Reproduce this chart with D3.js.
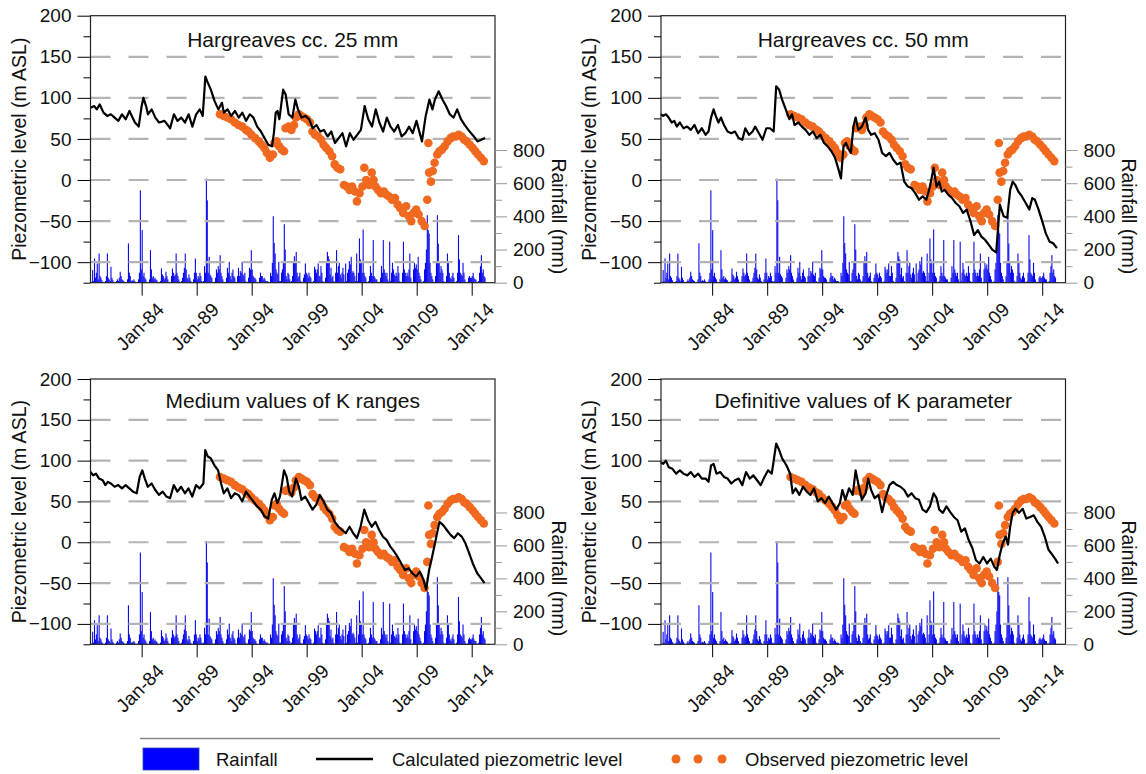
<!DOCTYPE html>
<html>
<head>
<meta charset="utf-8">
<script src="https://cdn.jsdelivr.net/npm/d3@7"></script>
<style>
  body { margin: 0; background: #fff; }
  text { font-family: "Liberation Sans", Arial, sans-serif; fill: #111; }
</style>
</head>
<body>
<svg id="chart" width="1146" height="774"></svg>
<script>
// ---- data ----

// x ticks (January of these years)
var tickYears = [1984, 1989, 1994, 1999, 2004, 2009, 2014];
var levelTicks = [-100, -50, 0, 50, 100, 150, 200];
var rainTicks = [0, 200, 400, 600, 800];

// monthly rainfall (mm), first month = June 1979
var rainStart = [1979, 5];
var rainfall = [
  5, 76, 10, 146, 30, 60, 116,                          // 1979 Jun-Dec
  20, 176, 40, 30, 15, 5, 0, 2, 10, 40, 176, 30,        // 1980
  20, 10, 96, 30, 15, 5, 0, 0, 10, 20, 10, 30,          // 1981
  66, 40, 20, 15, 10, 0, 0, 5, 20, 237, 60, 40,         // 1982
  10, 15, 10, 20, 10, 0, 0, 5, 20, 60, 557, 80,         // 1983
  317, 40, 60, 30, 20, 5, 0, 0, 20, 196, 80, 30,        // 1984
  40, 20, 30, 20, 15, 5, 0, 0, 10, 86, 50, 40,          // 1985
  20, 30, 66, 40, 20, 5, 0, 0, 40, 86, 60, 40,          // 1986
  50, 176, 60, 40, 20, 5, 0, 10, 30, 60, 90, 176,       // 1987
  80, 30, 20, 50, 30, 10, 0, 0, 20, 60, 146, 60,        // 1988
  20, 40, 30, 60, 40, 10, 5, 10, 100, 60, 627, 497,     // 1989
  60, 156, 50, 40, 30, 5, 0, 5, 30, 80, 60, 100,        // 1990
  80, 166, 60, 40, 20, 5, 0, 5, 30, 90, 60, 126,        // 1991
  40, 20, 60, 80, 40, 30, 5, 0, 40, 90, 40, 70,         // 1992
  60, 126, 50, 40, 60, 10, 0, 5, 30, 90, 80, 196,       // 1993
  80, 40, 30, 30, 20, 5, 0, 0, 30, 60, 40, 40,          // 1994
  20, 30, 20, 10, 10, 10, 0, 0, 60, 40, 120, 401,       // 1995
  240, 176, 80, 60, 50, 126, 10, 10, 60, 80, 120, 353,  // 1996
  200, 40, 20, 60, 50, 20, 5, 10, 40, 120, 160, 130,    // 1997
  186, 60, 30, 40, 60, 10, 0, 5, 30, 50, 116, 60,       // 1998
  50, 30, 60, 40, 30, 5, 0, 10, 96, 80, 60, 80,         // 1999
  116, 40, 40, 100, 60, 10, 0, 5, 30, 120, 186, 160,    // 2000
  140, 50, 90, 30, 40, 10, 0, 60, 196, 60, 100, 120,    // 2001
  50, 30, 60, 90, 50, 5, 116, 10, 60, 80, 130, 110,     // 2002
  156, 60, 70, 60, 40, 10, 176, 10, 60, 267, 140, 120,  // 2003
  60, 321, 60, 40, 30, 5, 0, 10, 40, 100, 60, 40,       // 2004
  257, 40, 30, 20, 20, 5, 0, 5, 30, 100, 60, 257,       // 2005
  80, 60, 40, 60, 20, 5, 247, 10, 60, 120, 80, 50,      // 2006
  40, 60, 40, 100, 60, 10, 0, 5, 60, 247, 80, 60,       // 2007
  40, 60, 40, 80, 176, 30, 0, 5, 80, 120, 90, 110,      // 2008
  80, 156, 60, 40, 20, 5, 0, 10, 80, 120, 200, 407,     // 2009
  317, 297, 120, 60, 40, 20, 0, 5, 40, 120, 407, 236,   // 2010
  120, 60, 100, 80, 60, 10, 0, 5, 40, 176, 120, 60,     // 2011
  30, 20, 40, 60, 30, 5, 0, 10, 60, 287, 140, 60,       // 2012
  50, 40, 120, 60, 20, 5, 0, 5, 30, 40, 30, 30,         // 2013
  40, 60, 30, 20, 20, 5, 0, 10, 60, 100, 166, 60,       // 2014
  80, 40, 30                                            // 2015 Jan-Mar
];

// observed piezometric level [decimal year, m ASL] (same well in all panels)
var observed = [
  [1991.12, 80], [1991.46, 78], [1991.79, 76], [1992.13, 74], [1992.47, 70], [1992.80, 67],
  [1993.14, 65], [1993.48, 61], [1993.71, 59], [1993.98, 55], [1994.32, 51], [1994.65, 47],
  [1994.92, 43], [1995.16, 39], [1995.39, 33], [1995.66, 27], [1995.93, 31], [1996.07, 45],
  [1996.27, 47], [1996.50, 41], [1996.74, 37], [1996.94, 35], [1997.08, 63], [1997.35, 65],
  [1997.61, 61], [1997.85, 67], [1998.02, 76], [1998.29, 80], [1998.52, 78], [1998.76, 76],
  [1999.03, 74], [1999.30, 70], [1999.53, 59], [1999.77, 55], [2000.04, 53], [2000.31, 49],
  [2000.54, 43], [2000.78, 39], [2001.05, 35], [2001.31, 29], [2001.55, 19], [2001.79, 15],
  [2002.05, 13], [2002.39, -6], [2002.66, -8], [2002.90, -12], [2003.13, -8], [2003.40, -14],
  [2003.57, -26], [2003.80, -16], [2004.07, -8], [2004.24, 15], [2004.41, 0], [2004.68, -6],
  [2004.91, 9], [2005.08, 0], [2005.25, -8], [2005.48, -12], [2005.75, -16], [2006.02, -14],
  [2006.26, -18], [2006.49, -20], [2006.76, -24], [2007.03, -22], [2007.27, -30], [2007.50, -34],
  [2007.77, -40], [2008.04, -32], [2008.28, -44], [2008.51, -50], [2008.71, -40], [2008.95, -36],
  [2009.18, -42], [2009.45, -50], [2009.72, -56], [2009.96, -24], [2010.06, 45], [2010.13, 9],
  [2010.29, -2], [2010.46, 11], [2010.63, 21], [2010.87, 31], [2011.07, 35], [2011.30, 37],
  [2011.54, 41], [2011.81, 47], [2012.08, 51], [2012.31, 53], [2012.55, 53], [2012.82, 55],
  [2013.09, 53], [2013.32, 49], [2013.56, 47], [2013.83, 43], [2014.10, 39], [2014.33, 35],
  [2014.57, 31], [2014.84, 27], [2015.10, 23]
];

// calculated piezometric level [decimal year, m ASL], one series per panel
var calc25 = [
  [1979.35, 88], [1979.69, 90], [1979.92, 86], [1980.19, 92], [1980.53, 82], [1980.87, 78],
  [1981.20, 80], [1981.54, 76], [1981.88, 72], [1982.21, 80], [1982.55, 74], [1982.89, 84],
  [1983.39, 70], [1983.73, 65], [1984.00, 90], [1984.16, 100], [1984.40, 90], [1984.57, 80],
  [1984.91, 86], [1985.24, 76], [1985.58, 70], [1986.08, 72], [1986.59, 63], [1986.93, 80],
  [1987.26, 72], [1987.60, 76], [1987.94, 70], [1988.27, 80], [1988.61, 65], [1988.95, 80],
  [1989.28, 86], [1989.55, 78], [1989.79, 126], [1989.96, 120], [1990.29, 110], [1990.63, 96],
  [1990.97, 86], [1991.30, 94], [1991.47, 82], [1991.81, 86], [1992.14, 78], [1992.48, 84],
  [1992.82, 76], [1993.15, 82], [1993.49, 72], [1993.83, 80], [1994.16, 76], [1994.50, 65],
  [1994.84, 59], [1995.17, 51], [1995.51, 43], [1995.85, 41], [1996.02, 57], [1996.19, 82],
  [1996.35, 84], [1996.52, 74], [1996.86, 110], [1997.09, 104], [1997.36, 80], [1997.70, 76],
  [1997.97, 98], [1998.21, 86], [1998.54, 76], [1998.88, 78], [1999.22, 74], [1999.55, 63],
  [1999.89, 67], [2000.23, 59], [2000.56, 61], [2000.90, 53], [2001.24, 59], [2001.57, 45],
  [2001.91, 51], [2002.25, 57], [2002.58, 41], [2002.92, 57], [2003.26, 49], [2003.59, 55],
  [2003.93, 61], [2004.27, 90], [2004.60, 74], [2004.94, 65], [2005.28, 86], [2005.61, 70],
  [2005.95, 59], [2006.29, 76], [2006.62, 65], [2006.96, 59], [2007.30, 67], [2007.63, 53],
  [2007.97, 57], [2008.31, 65], [2008.64, 57], [2008.98, 72], [2009.48, 47], [2009.82, 78],
  [2010.16, 98], [2010.43, 86], [2010.66, 98], [2011.00, 108], [2011.34, 98], [2011.67, 90],
  [2012.01, 80], [2012.35, 76], [2012.68, 86], [2013.02, 74], [2013.36, 67], [2013.69, 61],
  [2014.20, 53], [2014.53, 47], [2014.87, 49], [2015.21, 51]
];
var calc50 = [
  [1979.32, 80], [1979.55, 78], [1979.79, 80], [1980.05, 76], [1980.32, 70], [1980.56, 72],
  [1980.79, 65], [1981.06, 70], [1981.39, 63], [1981.73, 65], [1982.06, 61], [1982.39, 67],
  [1982.73, 57], [1983.06, 63], [1983.40, 55], [1983.67, 59], [1983.90, 76], [1984.13, 86],
  [1984.33, 78], [1984.57, 70], [1984.80, 76], [1985.07, 67], [1985.40, 59], [1985.74, 57],
  [1986.07, 59], [1986.41, 51], [1986.74, 49], [1987.01, 63], [1987.34, 55], [1987.68, 59],
  [1987.91, 65], [1988.25, 57], [1988.58, 49], [1988.92, 63], [1989.25, 63], [1989.59, 59],
  [1989.82, 114], [1990.09, 110], [1990.35, 98], [1990.69, 86], [1991.02, 74], [1991.26, 80],
  [1991.49, 67], [1991.83, 70], [1992.16, 65], [1992.49, 61], [1992.83, 55], [1993.16, 59],
  [1993.50, 51], [1993.83, 55], [1994.17, 45], [1994.50, 41], [1994.84, 35], [1995.17, 27],
  [1995.44, 15], [1995.71, 2], [1995.94, 41], [1996.17, 45], [1996.37, 39], [1996.61, 33],
  [1996.84, 65], [1997.04, 76], [1997.28, 61], [1997.61, 65], [1997.95, 76], [1998.18, 61],
  [1998.45, 55], [1998.78, 57], [1999.12, 49], [1999.45, 33], [1999.79, 29], [2000.12, 33],
  [2000.45, 25], [2000.79, 19], [2001.12, 21], [2001.46, -2], [2001.79, -8], [2002.13, -10],
  [2002.46, -16], [2002.80, -24], [2003.13, -20], [2003.47, -24], [2003.80, -8], [2004.13, 15],
  [2004.40, -8], [2004.64, -2], [2004.87, -14], [2005.14, -12], [2005.47, -18], [2005.81, -22],
  [2006.14, -28], [2006.47, -32], [2006.81, -40], [2007.14, -36], [2007.48, -50], [2007.81, -67],
  [2008.15, -61], [2008.48, -69], [2008.82, -73], [2009.15, -79], [2009.48, -85], [2009.82, -88],
  [2010.15, -30], [2010.49, -44], [2010.82, -46], [2011.09, -12], [2011.32, -2], [2011.56, -6],
  [2011.83, -14], [2012.16, -20], [2012.50, -28], [2012.83, -36], [2013.10, -22], [2013.33, -24],
  [2013.67, -36], [2014.00, -50], [2014.33, -65], [2014.67, -75], [2015.00, -77], [2015.34, -83]
];
var calcMedK = [
  [1979.35, 86], [1979.59, 82], [1979.85, 84], [1980.12, 78], [1980.46, 76], [1980.70, 70],
  [1980.93, 74], [1981.20, 72], [1981.54, 68], [1981.87, 70], [1982.21, 66], [1982.55, 70],
  [1982.88, 66], [1983.22, 62], [1983.55, 60], [1983.82, 80], [1984.06, 88], [1984.29, 78],
  [1984.56, 68], [1984.90, 72], [1985.24, 64], [1985.57, 58], [1985.91, 62], [1986.25, 56],
  [1986.58, 54], [1986.92, 70], [1987.25, 62], [1987.59, 68], [1987.93, 60], [1988.26, 66],
  [1988.60, 56], [1988.94, 70], [1989.27, 66], [1989.61, 72], [1989.78, 113], [1990.01, 105],
  [1990.28, 103], [1990.62, 94], [1990.95, 88], [1991.22, 72], [1991.46, 60], [1991.79, 66],
  [1992.13, 54], [1992.47, 60], [1992.80, 58], [1993.14, 50], [1993.48, 62], [1993.81, 56],
  [1994.15, 50], [1994.49, 44], [1994.82, 40], [1995.16, 32], [1995.50, 29], [1995.83, 52],
  [1996.07, 60], [1996.34, 48], [1996.57, 56], [1996.94, 88], [1997.18, 80], [1997.41, 62],
  [1997.68, 56], [1998.02, 78], [1998.29, 68], [1998.52, 52], [1998.86, 56], [1999.20, 48],
  [1999.53, 40], [1999.87, 46], [2000.20, 58], [2000.54, 50], [2000.88, 40], [2001.21, 36],
  [2001.55, 25], [2001.89, 19], [2002.22, 15], [2002.56, 11], [2002.90, 19], [2003.23, 11],
  [2003.57, 5], [2003.90, 19], [2004.24, 40], [2004.58, 27], [2004.91, 19], [2005.25, 25],
  [2005.59, 15], [2005.92, 7], [2006.26, 3], [2006.59, -5], [2006.93, -11], [2007.27, -18],
  [2007.60, -26], [2007.94, -34], [2008.28, -32], [2008.61, -38], [2008.95, -42], [2009.29, -36],
  [2009.62, -46], [2009.86, -58], [2010.13, -34], [2010.40, -18], [2010.73, 3], [2011.07, 25],
  [2011.41, 21], [2011.74, 15], [2012.08, 9], [2012.41, 5], [2012.75, 11], [2013.09, 7],
  [2013.42, -1], [2013.76, -13], [2014.10, -26], [2014.50, -38], [2014.84, -44], [2015.17, -50]
];
var calcDefK = [
  [1979.32, 98], [1979.55, 96], [1979.79, 100], [1980.05, 92], [1980.39, 90], [1980.72, 84],
  [1981.06, 88], [1981.39, 84], [1981.73, 82], [1982.06, 86], [1982.39, 80], [1982.73, 84],
  [1983.06, 78], [1983.40, 78], [1983.67, 74], [1983.90, 94], [1984.13, 96], [1984.40, 84],
  [1984.74, 86], [1985.07, 80], [1985.40, 78], [1985.74, 72], [1986.07, 76], [1986.41, 78],
  [1986.74, 70], [1987.08, 86], [1987.41, 78], [1987.75, 82], [1988.08, 76], [1988.41, 70],
  [1988.75, 80], [1989.08, 88], [1989.42, 84], [1989.82, 121], [1990.09, 113], [1990.35, 103],
  [1990.76, 94], [1991.09, 84], [1991.32, 60], [1991.59, 66], [1991.93, 58], [1992.26, 68],
  [1992.60, 62], [1992.93, 58], [1993.26, 66], [1993.60, 50], [1993.93, 54], [1994.27, 48],
  [1994.60, 56], [1994.94, 48], [1995.27, 40], [1995.61, 48], [1995.84, 64], [1996.11, 52],
  [1996.44, 66], [1996.78, 58], [1997.04, 88], [1997.28, 72], [1997.61, 52], [1997.95, 60],
  [1998.18, 78], [1998.45, 64], [1998.78, 54], [1999.12, 58], [1999.45, 37], [1999.79, 56],
  [2000.12, 70], [2000.45, 74], [2000.79, 70], [2001.12, 68], [2001.46, 64], [2001.79, 56],
  [2002.13, 60], [2002.46, 54], [2002.80, 52], [2003.13, 40], [2003.47, 37], [2003.80, 44],
  [2004.13, 60], [2004.40, 54], [2004.64, 40], [2004.97, 36], [2005.30, 44], [2005.64, 37],
  [2005.97, 31], [2006.31, 27], [2006.64, 13], [2006.98, 17], [2007.31, 3], [2007.65, -7],
  [2007.98, -22], [2008.31, -26], [2008.65, -18], [2008.98, -26], [2009.32, -20], [2009.65, -30],
  [2009.89, -34], [2010.15, -15], [2010.42, -1], [2010.69, 7], [2010.89, -3], [2011.09, 19],
  [2011.32, 36], [2011.56, 41], [2011.89, 36], [2012.23, 41], [2012.56, 29], [2012.90, 31],
  [2013.23, 33], [2013.56, 25], [2013.90, 19], [2014.23, 7], [2014.57, -9], [2014.90, -15],
  [2015.17, -20], [2015.44, -26]
];

var panelTitles = ["Hargreaves cc. 25 mm", "Hargreaves cc. 50 mm",
                   "Medium values of K ranges", "Definitive values of K parameter"];
var panelSeries = [calc25, calc50, calcMedK, calcDefK];

// ---- layout ----
var svg = d3.select("#chart");
var plotW = 404.5;
var boxes = [
  {left: 90.5, top: 15.7, h: 267, titleY: 31},
  {left: 661, top: 15.7, h: 267, titleY: 31},
  {left: 90.5, top: 379, h: 265.3, titleY: 28.5},
  {left: 661, top: 379, h: 265.3, titleY: 28.5}
];
var orange = "#f0691f";

function toDate(y) {
  var yr = Math.floor(y);
  var a = new Date(yr, 0, 1), b = new Date(yr + 1, 0, 1);
  return new Date(+a + (y - yr) * (b - a));
}

var rainData = rainfall.map(function(v, i) {
  return {date: new Date(rainStart[0], rainStart[1] + i, 1),
          next: new Date(rainStart[0], rainStart[1] + i + 1, 1), value: v};
});

boxes.forEach(function(b, p) {
  var g = svg.append("g").attr("transform", "translate(" + b.left + "," + b.top + ")");
  var h = b.h;

  var x = d3.scaleTime()
    .domain([toDate(1979.35), toDate(2016.12)])
    .range([0, plotW]);
  var y = d3.scaleLinear().domain([-125, 200]).range([h, 0]);
  // 0..800 mm occupies the lower half of the panel
  var yRain = d3.scaleLinear().domain([0, 1610]).range([h, 0]);

  // rainfall bars
  g.append("g").selectAll("rect")
    .data(rainData)
    .enter()
    .append("rect")
    .attr("x", function(d) { return x(d.date); })
    .attr("width", function(d) { return Math.max(1.1, x(d.next) - x(d.date)); })
    .attr("y", function(d) { return yRain(d.value); })
    .attr("height", function(d) { return h - yRain(d.value); })
    .attr("fill", "#0a0af0");

  // dashed grid
  g.append("g").selectAll("line")
    .data([-100, -50, 0, 50, 100, 150])
    .enter()
    .append("line")
    .attr("x1", 0).attr("x2", plotW)
    .attr("y1", function(d) { return y(d); })
    .attr("y2", function(d) { return y(d); })
    .attr("stroke", "#b4b4b4")
    .attr("stroke-width", 2.2)
    .attr("stroke-dasharray", "20,18");

  // observed dots
  g.append("g").selectAll("circle")
    .data(observed)
    .enter()
    .append("circle")
    .attr("cx", function(d) { return x(toDate(d[0])); })
    .attr("cy", function(d) { return y(d[1]); })
    .attr("r", 4.3)
    .attr("fill", orange);

  // calculated line
  var line = d3.line()
    .x(function(d) { return x(toDate(d[0])); })
    .y(function(d) { return y(d[1]); });
  g.append("path")
    .datum(panelSeries[p])
    .attr("d", line)
    .attr("fill", "none")
    .attr("stroke", "#000")
    .attr("stroke-width", 2.2)
    .attr("stroke-linejoin", "round");

  // frame
  g.append("rect")
    .attr("width", plotW).attr("height", h)
    .attr("fill", "none")
    .attr("stroke", "#222")
    .attr("stroke-width", 1.2);

  // left axis
  g.append("g")
    .call(d3.axisLeft(y).tickValues(levelTicks).tickSize(13).tickPadding(6));
  g.append("g")
    .call(d3.axisLeft(y).tickValues([-125, -75, -25, 25, 75, 125, 175]).tickSize(7).tickFormat(""));

  // right axis
  var rightAxis = g.append("g")
    .attr("transform", "translate(" + plotW + ",0)")
    .call(d3.axisRight(yRain).tickValues(rainTicks).tickSize(12).tickPadding(6));
  g.append("g")
    .attr("transform", "translate(" + plotW + ",0)")
    .call(d3.axisRight(yRain).tickValues([100, 300, 500, 700]).tickSize(7).tickFormat(""))
    .selectAll("line").attr("stroke", "#999");
  rightAxis.selectAll("line").attr("stroke", "#999");

  // bottom axis
  var bottomAxis = g.append("g")
    .attr("transform", "translate(0," + h + ")")
    .call(d3.axisBottom(x)
      .tickValues(tickYears.map(function(yr) { return new Date(yr, 0, 1); }))
      .tickSize(13)
      .tickFormat(d3.timeFormat("%b-%y")));

  g.selectAll(".domain").remove();
  g.selectAll(".tick text").attr("font-size", 19).attr("font-family", "Liberation Sans, Arial, sans-serif").attr("fill", "#111");

  bottomAxis.selectAll(".tick text")
    .attr("text-anchor", "end")
    .attr("dy", null)
    .attr("y", null)
    .attr("transform", "translate(23,28) rotate(-45)");

  // titles
  g.append("text")
    .attr("x", plotW / 2)
    .attr("y", b.titleY)
    .attr("text-anchor", "middle")
    .attr("font-size", 21)
    .text(panelTitles[p]);

  g.append("text")
    .attr("transform", "translate(" + (-70) + "," + (h / 2) + ") rotate(-90)")
    .attr("text-anchor", "middle")
    .attr("dominant-baseline", "middle")
    .attr("font-size", 19.5)
    .text("Piezometric level (m ASL)");

  g.append("text")
    .attr("transform", "translate(" + (plotW + 62) + "," + yRain(400) + ") rotate(90)")
    .attr("text-anchor", "middle")
    .attr("dominant-baseline", "middle")
    .attr("font-size", 19.5)
    .text("Rainfall (mm)");
});

// ---- legend ----
var legend = svg.append("g");
legend.append("line")
  .attr("x1", 140).attr("x2", 1000)
  .attr("y1", 738.5).attr("y2", 738.5)
  .attr("stroke", "#888").attr("stroke-width", 1.3);
legend.append("rect")
  .attr("x", 143).attr("y", 748).attr("width", 56).attr("height", 22)
  .attr("fill", "#0000ff").attr("stroke", "#2a4cb0").attr("stroke-width", 0.8);
legend.append("text").attr("x", 216).attr("y", 765.5).attr("font-size", 18.5).text("Rainfall");
legend.append("line")
  .attr("x1", 316).attr("x2", 373).attr("y1", 759).attr("y2", 759)
  .attr("stroke", "#000").attr("stroke-width", 2.5);
legend.append("text").attr("x", 392).attr("y", 765.5).attr("font-size", 18.5).text("Calculated piezometric level");
legend.selectAll("circle.leg")
  .data([676, 698, 722])
  .enter()
  .append("circle")
  .attr("cx", function(d) { return d; })
  .attr("cy", 759)
  .attr("r", 4.5)
  .attr("fill", orange);
legend.append("text").attr("x", 745).attr("y", 765.5).attr("font-size", 18.5).text("Observed piezometric level");
</script>
</body>
</html>
